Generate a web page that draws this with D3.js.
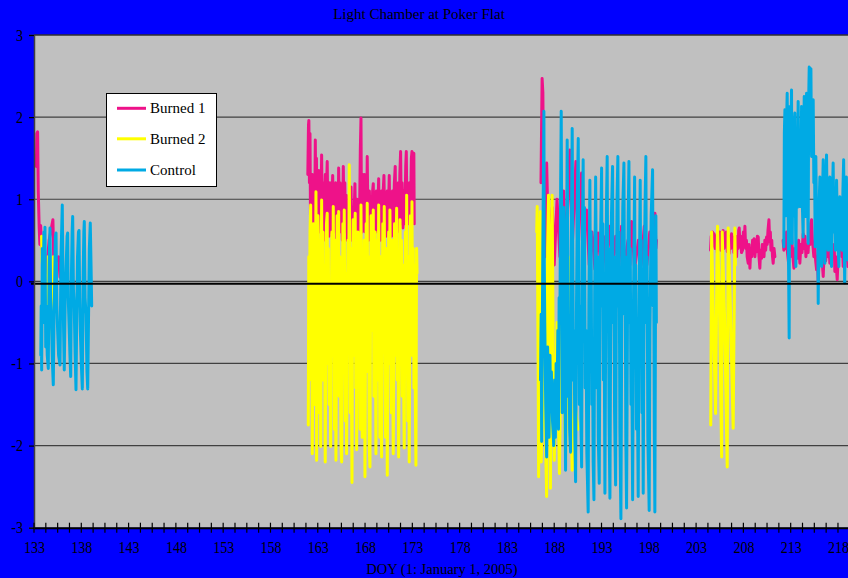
<!DOCTYPE html>
<html>
<head>
<meta charset="utf-8">
<script src="https://cdn.jsdelivr.net/npm/d3@7"></script>
<style>
  html, body { margin: 0; padding: 0; background: #0000FF; overflow: hidden; }
  svg { display: block; }
  text { font-family: "Liberation Serif", "Times New Roman", Times, serif; fill: #000; }
</style>
</head>
<body>
<svg id="chart" width="848" height="578"></svg>
<script>
// ---------------- DATA (DOY, value) ----------------
const chartTitle = "Light Chamber at Poker Flat";
const xAxisTitle = "DOY (1: January 1, 2005)";
const xTickLabels = [133, 138, 143, 148, 153, 158, 163, 168, 173, 178, 183, 188, 193, 198, 203, 208, 213, 218];
const yTickLabels = [-3, -2, -1, 0, 1, 2, 3];
const seriesNames = ["Burned 1", "Burned 2", "Control"];

// Burned 1
const burned1Seg1 = [[133.25,1.4],[133.3,1.8],[133.38,1.82],[133.45,1.1],[133.55,0.65],[133.62,0.45],[133.7,0.68],[133.78,0.5],
  [133.9,0.3],[134.3,0.1],[134.6,0.5],[135.0,0.75],[135.1,0.2],[135.6,0.3],[135.75,0.05]];
const burned1Seg2 = [[161.95,1.3],[162.02,1.9],[162.06,1.96],[162.12,1.2],[162.18,1.8],[162.24,0.6],[162.3,1.1],[162.36,0.5],
  [162.44,1.3],[162.5,0.7],[162.58,1.1],[162.66,0.5],[162.74,1.72],[162.8,0.9],[162.86,1.5],[162.92,0.6],[163.0,1.2],
  [163.06,0.7],[163.12,1.35],[163.2,0.6],[163.28,1.1],[163.34,0.8],[163.41,1.54],[163.48,0.6],[163.56,1.2],[163.64,0.5],
  [163.72,1.0],[163.8,1.3],[163.86,0.6],[163.94,1.2],[164.0,1.46],[164.08,0.7],[164.14,1.1],[164.2,0.55],[164.3,1.2],
  [164.4,0.6],[164.5,1.0],[164.58,1.29],[164.66,0.6],[164.74,1.1],[164.8,0.7],[164.9,1.2],[165.0,0.5],[165.08,1.0],
  [165.14,0.6],[165.21,1.38],[165.28,0.8],[165.36,1.2],[165.44,0.6],[165.52,1.1],[165.6,0.5],[165.7,1.40],[165.78,0.7],
  [165.86,1.2],[165.94,0.6],[166.02,1.05],[166.1,0.5],[166.2,0.9],[166.28,0.3],[166.36,1.0],[166.44,0.6],[166.52,1.15],
  [166.6,0.5],[166.7,0.9],[166.8,0.6],[166.93,1.19],[167.0,0.6],[167.08,0.4],[167.16,1.0],[167.24,0.5],[167.32,0.9],
  [167.4,0.6],[167.5,1.6],[167.57,1.99],[167.62,0.8],[167.7,0.6],[167.78,1.3],[167.86,0.7],[167.94,1.3],[168.02,0.6],
  [168.1,1.1],[168.18,0.7],[168.23,1.52],[168.3,0.8],[168.38,0.5],[168.46,1.1],[168.54,0.6],[168.62,1.0],[168.7,0.5],
  [168.8,1.1],[168.87,1.19],[168.94,0.55],[169.02,1.0],[169.1,0.6],[169.2,1.1],[169.3,0.6],[169.44,1.25],[169.5,0.7],
  [169.58,1.0],[169.66,0.5],[169.76,1.1],[169.84,0.6],[169.92,1.1],[170.0,1.29],[170.08,0.6],[170.16,1.0],[170.24,0.55],
  [170.34,1.1],[170.42,0.6],[170.5,1.0],[170.56,1.29],[170.64,0.6],[170.72,1.0],[170.8,0.55],[170.9,1.1],[171.0,0.7],
  [171.1,1.2],[171.19,1.40],[171.26,0.6],[171.34,1.0],[171.42,0.6],[171.52,1.2],[171.6,0.7],[171.68,1.3],[171.76,1.58],
  [171.84,0.7],[171.92,1.2],[172.0,0.65],[172.1,1.1],[172.2,0.7],[172.3,1.4],[172.36,1.58],[172.44,0.7],[172.52,1.1],
  [172.6,0.7],[172.7,1.2],[172.8,0.8],[172.9,1.5],[172.96,1.58],[173.04,0.9],[173.1,1.3],[173.16,1.56],[173.2,0.7]];
const burned1Seg3 = [[186.6,1.2],[186.72,2.47],[186.8,2.3],[186.9,0.8],[187.0,1.2],[187.1,0.3],[187.2,1.44],[187.4,0.4],
  [187.8,0.9],[188.0,0.2],[188.3,1.0],[188.6,0.3],[189.0,1.1],[189.2,0.3],[189.66,1.60],[189.9,0.4],[190.29,1.46],
  [190.5,0.3],[190.89,1.32],[191.1,0.5],[191.42,0.87],[191.7,0.2],[192.0,0.6],[192.3,0.15],[192.65,0.59],[192.9,0.2],
  [193.2,0.55],[193.5,0.15],[193.89,0.67],[194.2,0.2],[194.5,0.55],[194.8,0.15],[195.12,0.67],[195.4,0.2],[195.8,0.5],
  [196.0,0.2],[196.18,0.73],[196.5,0.15],[196.9,0.5],[197.2,0.2],[197.52,0.67],[197.8,0.2],[198.1,0.6],[198.4,0.3],
  [198.65,0.83],[198.75,0.4],[198.82,0.5]];
const burned1Seg4 = [[204.53,0.38],[204.6,0.55],[204.67,0.42],[204.74,0.60],[204.82,0.45],[204.9,0.58],[205.0,0.40],
  [205.08,0.55],[205.17,0.54],[205.25,0.35],[205.33,0.55],[205.42,0.45],[205.5,0.60],[205.59,0.38],[205.68,0.56],
  [205.76,0.42],[205.86,0.62],[205.95,0.40],[206.04,0.58],[206.12,0.44],[206.2,0.60],[206.3,0.36],[206.4,0.52],
  [206.50,0.34],[206.58,0.55],[206.66,0.40],[206.75,0.58],[206.84,0.42],[206.92,0.54],[207.0,0.35],[207.1,0.50],
  [207.2,0.32],[207.28,0.30],[207.36,0.55],[207.44,0.40],[207.5,0.62],[207.56,0.65],[207.64,0.42],[207.72,0.55],
  [207.8,0.35],[207.91,0.38],[208.0,0.60],[208.08,0.45],[208.16,0.67],[208.24,0.40],[208.32,0.50],[208.4,0.30],
  [208.51,0.22],[208.6,0.45],[208.69,0.16],[208.78,0.40],[208.88,0.30],[208.97,0.50],[209.05,0.35],[209.14,0.52],
  [209.22,0.30],[209.3,0.48],[209.4,0.36],[209.48,0.55],[209.57,0.54],[209.65,0.30],[209.74,0.16],[209.82,0.38],
  [209.92,0.28],[210.0,0.45],[210.09,0.42],[210.18,0.30],[210.27,0.50],[210.36,0.38],[210.45,0.54],[210.52,0.45],
  [210.6,0.62],[210.70,0.75],[210.78,0.48],[210.85,0.60],[210.91,0.38],[211.0,0.50],[211.08,0.30],[211.15,0.22],
  [211.24,0.40],[211.33,0.30]];
const burned1Seg5 = [[212.2,0.5],[212.28,0.38],[212.4,0.55],[212.48,0.40],[212.56,0.60],[212.66,0.35],[212.78,0.22],
  [212.88,0.45],[212.96,0.30],[213.09,0.56],[213.2,0.35],[213.34,0.16],[213.46,0.40],[213.54,0.30],[213.62,0.46],
  [213.72,0.28],[213.84,0.50],[213.97,0.22],[214.08,0.45],[214.2,0.35],[214.32,0.58],[214.44,0.40],[214.52,0.55],
  [214.61,0.30],[214.72,0.45],[214.84,0.35],[214.96,0.60],[215.05,0.45],[215.12,0.70],[215.21,0.75],[215.3,0.50],
  [215.38,0.40],[215.45,0.30],[215.55,0.45],[215.64,0.25],[215.74,0.14],[215.82,0.30],[215.91,0.0],[216.0,0.25],
  [216.08,0.50],[216.16,0.38],[216.26,0.45],[216.36,0.20],[216.44,0.06],[216.52,0.30],[216.62,0.45],[216.7,0.25],
  [216.79,0.38],[216.88,0.55],[216.96,0.30],[217.06,0.42],[217.14,0.22],[217.24,0.45],[217.34,0.28],[217.43,0.38],
  [217.52,0.30],[217.6,0.45],[217.67,0.12],[217.76,0.30],[217.84,0.15],[217.92,0.02],[218.0,0.25],[218.1,0.45],
  [218.20,0.38],[218.3,0.55],[218.4,0.30],[218.48,0.42],[218.55,0.18],[218.65,0.35],[218.74,0.25],[218.84,0.34],
  [218.94,0.45],[219.05,0.18]];

// Burned 2
const burned2Seg1 = [[133.8,0.55],[133.85,0.25],[134.0,0.1],[134.3,-0.5],[134.5,0.3],[134.95,-0.7],[135.05,0.3],[135.3,-0.2]];
const burned2Seg2 = [[162.00,-1.75],[162.05,0.3],[162.1,-1.2],[162.18,0.6],[162.25,0.93],[162.3,-0.6],[162.36,0.4],
  [162.42,-2.10],[162.5,-0.4],[162.55,0.7],[162.6,-1.5],[162.66,0.2],[162.72,-1.0],[162.81,1.09],[162.85,-0.3],
  [162.88,-2.18],[162.95,-0.5],[163.02,0.8],[163.1,0.3],[163.15,-1.6],[163.22,0.5],[163.31,-2.01],[163.36,-0.2],
  [163.41,0.99],[163.48,-1.2],[163.55,0.6],[163.62,-0.8],[163.7,0.2],[163.79,-2.20],[163.85,-0.6],[163.92,0.7],
  [164.00,0.83],[164.06,-1.0],[164.12,0.4],[164.2,-1.5],[164.27,-0.2],[164.36,-2.01],[164.42,-0.5],[164.5,0.6],
  [164.58,-0.9],[164.64,0.91],[164.7,-0.2],[164.76,-1.8],[164.83,0.5],[164.92,-2.18],[164.98,-0.7],[165.05,0.8],
  [165.12,0.2],[165.21,0.85],[165.27,-1.4],[165.33,0.3],[165.4,-1.0],[165.46,-2.0],[165.53,-2.20],[165.6,-0.4],
  [165.66,0.7],[165.72,-0.8],[165.80,0.87],[165.86,-0.5],[165.92,-1.7],[165.98,0.1],[166.05,-2.10],[166.12,-0.3],
  [166.2,0.5],[166.26,-0.6],[166.33,1.42],[166.38,0.2],[166.44,-1.6],[166.5,0.4],[166.56,-1.1],[166.62,-2.45],
  [166.68,-0.2],[166.74,0.75],[166.8,-0.9],[166.88,0.5],[166.96,0.83],[167.02,-1.3],[167.08,-0.1],[167.11,-2.05],
  [167.18,-0.4],[167.25,0.6],[167.32,-1.0],[167.4,0.4],[167.48,-1.8],[167.57,0.93],[167.63,-0.3],[167.7,-1.9],
  [167.76,0.2],[167.84,-1.2],[167.92,0.5],[167.99,-2.38],[168.05,-0.6],[168.12,0.7],[168.18,-0.5],[168.23,0.95],
  [168.3,-1.1],[168.36,0.3],[168.44,-2.0],[168.52,-2.26],[168.58,-0.3],[168.64,0.8],[168.7,-0.6],[168.78,0.4],
  [168.87,0.87],[168.93,-1.4],[169.0,-0.2],[169.07,0.6],[169.15,-2.10],[169.21,-0.7],[169.28,0.5],[169.36,-1.2],
  [169.44,0.93],[169.5,-0.4],[169.57,-1.9],[169.64,0.3],[169.75,-2.14],[169.81,-0.5],[169.88,0.7],[169.95,-0.8],
  [170.03,0.91],[170.1,-0.6],[170.17,-1.9],[170.24,0.4],[170.35,-2.36],[170.42,-0.4],[170.5,0.6],[170.56,-1.0],
  [170.63,0.87],[170.7,-0.3],[170.78,-1.6],[170.86,0.5],[170.98,-2.10],[171.05,-0.8],[171.12,0.7],[171.2,-0.9],
  [171.28,0.3],[171.34,0.89],[171.4,-1.2],[171.48,-0.2],[171.55,-2.14],[171.62,-0.4],[171.7,0.75],[171.78,-0.9],
  [171.85,0.5],[171.93,-1.4],[172.0,0.2],[172.07,-1.1],[172.14,-2.03],[172.2,-0.3],[172.27,0.6],[172.33,-0.8],
  [172.40,1.05],[172.46,-0.5],[172.52,-1.7],[172.6,0.3],[172.67,-2.20],[172.74,-0.5],[172.8,0.8],[172.88,-0.9],
  [172.96,0.97],[173.02,-0.6],[173.1,0.4],[173.17,-1.3],[173.25,0.2],[173.32,-1.5],[173.38,-2.24],[173.43,-0.2],
  [173.45,0.40],[173.5,0.1]];
const burned2Seg3 = [[186.15,0.6],[186.2,0.91],[186.3,-1.0],[186.35,-2.38],[186.45,0.2],[186.55,0.85],[186.62,-2.2],
  [186.9,-0.9],[187.2,-2.62],[187.3,0.4],[187.4,1.05],[187.5,-0.5],[187.6,-2.52],[187.7,0.3],[187.78,1.05],[187.9,-1.0],
  [188.0,-2.18],[188.3,-0.5],[188.55,-2.34],[188.8,0.2],[189.2,-2.21],[189.5,0.3],[189.9,-2.3],[190.2,-1.5],[190.5,-1.8]];
const burned2Seg4 = [[204.55,-1.75],[204.64,0.60],[204.8,-0.3],[205.06,-1.61],[205.2,0.2],[205.27,0.67],[205.5,-0.5],
  [205.70,-2.14],[205.76,0.60],[206.0,-0.4],[206.29,-2.26],[206.39,0.65],[206.6,-0.2],[206.92,-1.79],[207.10,0.65],[207.15,0.2]];

// Control
const controlSeg1 = [[133.72,-0.9],[133.76,-0.3],[133.81,-1.08],[133.88,0.4],[133.95,-0.2],[134.05,0.6],[134.1,-0.5],
  [134.16,0.66],[134.24,-0.8],[134.3,-0.3],[134.4,-0.9],[134.51,-1.06],[134.6,0.2],[134.69,0.65],[134.76,-0.2],
  [134.85,-0.5],[134.95,-1.0],[135.04,-1.26],[135.12,-0.4],[135.2,0.1],[135.26,0.55],[135.33,0.59],[135.42,-0.3],
  [135.5,-0.6],[135.6,-0.9],[135.75,-1.02],[135.85,0.3],[135.92,0.6],[135.99,0.93],[136.05,0.2],[136.1,-0.4],
  [136.20,-1.08],[136.3,-0.2],[136.4,0.2],[136.5,0.55],[136.56,0.59],[136.62,-0.2],[136.7,-0.5],[136.8,-0.9],
  [136.88,-1.16],[136.96,0.1],[137.03,0.6],[137.09,0.79],[137.17,-0.1],[137.25,-0.3],[137.35,-0.9],[137.44,-1.32],
  [137.52,-0.4],[137.6,0.3],[137.7,0.6],[137.76,0.62],[137.83,-0.2],[137.9,-0.6],[138.0,-1.0],[138.11,-1.31],
  [138.2,0.1],[138.27,0.6],[138.32,0.73],[138.4,-0.2],[138.5,-0.4],[138.6,-1.1],[138.68,-1.31],[138.76,-0.5],
  [138.85,0.4],[138.95,0.71],[139.03,0.2],[139.10,-0.3]];
const controlSeg3 = [[186.55,-1.2],[186.62,-0.4],[186.67,-1.95],[186.8,0.5],[186.91,2.07],[186.95,0.2],[187.0,-0.5],
  [187.1,-1.5],[187.2,-2.14],[187.3,-0.8],[187.38,-1.2],[187.45,-1.9],[187.55,-0.9],[187.62,-1.5],[187.7,-1.1],
  [187.82,-1.7],[187.95,-2.0],[188.05,-1.2],[188.12,-1.9],[188.2,-1.0],[188.3,-1.5],[188.38,-0.6],[188.45,-1.8],
  [188.52,-0.2],[188.6,-0.5],[188.68,1.2],[188.74,2.07],[188.8,0.5],[188.85,-1.6],[188.9,-1.0],[188.98,0.9],
  [189.05,0.5],[189.12,-1.2],[189.20,-2.30],[189.28,-0.2],[189.37,1.72],[189.43,0.4],[189.5,-1.4],[189.55,-0.5],
  [189.63,-1.8],[189.73,-2.08],[189.8,0.3],[189.90,1.86],[189.96,0.6],[190.03,-1.2],[190.1,-0.6],[190.18,-1.9],
  [190.26,-2.44],[190.35,-0.4],[190.44,1.0],[190.54,1.74],[190.6,0.2],[190.66,-1.5],[190.74,-0.3],[190.82,-1.7],
  [190.90,-2.26],[190.97,0.4],[191.06,1.48],[191.12,-0.2],[191.2,0.9],[191.28,-1.3],[191.36,-0.6],[191.45,-2.1],
  [191.59,-2.81],[191.66,-0.3],[191.77,1.23],[191.84,-0.4],[191.9,0.6],[191.97,-1.5],[192.05,-0.8],[192.12,-2.2],
  [192.20,-2.66],[192.28,-0.1],[192.38,1.27],[192.45,0.1],[192.52,-1.3],[192.58,0.3],[192.66,-1.9],[192.76,-2.46],
  [192.86,0.2],[193.01,1.38],[193.07,-0.3],[193.14,0.7],[193.2,-1.2],[193.28,-0.5],[193.36,-2.58],[193.44,-0.6],
  [193.52,0.9],[193.60,1.52],[193.66,-0.2],[193.72,0.4],[193.8,-1.7],[193.89,-2.64],[193.96,-0.8],[194.05,0.8],
  [194.17,1.40],[194.24,-0.5],[194.3,0.3],[194.38,-1.6],[194.49,-2.48],[194.56,-0.4],[194.64,1.0],[194.73,1.52],
  [194.8,-0.3],[194.86,0.6],[194.94,-1.8],[195.05,-2.89],[195.14,-0.5],[195.25,0.9],[195.37,1.44],[195.44,-0.4],
  [195.5,0.3],[195.57,-1.9],[195.65,-2.76],[195.74,-0.6],[195.82,0.8],[195.90,1.46],[195.97,-0.5],[196.04,0.4],
  [196.12,-1.5],[196.2,-0.9],[196.29,-2.66],[196.38,-0.3],[196.50,1.27],[196.56,-0.6],[196.62,0.2],[196.7,-1.8],
  [196.78,-1.1],[196.88,-2.62],[196.96,-0.5],[197.09,1.23],[197.15,-0.4],[197.2,0.5],[197.28,-1.6],[197.35,-0.8],
  [197.41,-2.58],[197.5,-0.2],[197.6,0.9],[197.69,1.52],[197.76,-0.5],[197.82,0.3],[197.9,-1.9],[198.04,-2.79],
  [198.12,-0.6],[198.25,0.8],[198.40,1.36],[198.46,-0.3],[198.52,0.2],[198.58,-1.8],[198.64,-2.81],[198.7,-0.6],
  [198.75,0.8],[198.8,-0.5]];
const controlSeg5 = [[212.25,0.5],[212.28,0.42],[212.33,1.8],[212.39,2.09],[212.45,1.0],[212.5,0.8],[212.56,1.9],
  [212.63,2.29],[212.7,1.2],[212.76,0.4],[212.84,-0.69],[212.88,1.6],[212.92,2.13],[212.96,1.0],[213.0,0.6],
  [213.05,1.9],[213.09,2.33],[213.12,1.2],[213.16,0.46],[213.24,1.5],[213.3,0.8],[213.38,1.9],[213.44,2.05],
  [213.5,1.0],[213.55,0.18],[213.62,1.4],[213.7,0.9],[213.79,2.19],[213.86,1.3],[213.92,1.8],[213.97,0.91],
  [214.05,1.7],[214.1,1.2],[214.15,2.13],[214.22,1.0],[214.32,0.54],[214.38,1.6],[214.43,2.25],[214.5,1.2],
  [214.58,0.79],[214.63,1.9],[214.68,2.29],[214.76,1.3],[214.85,0.46],[214.9,2.2],[214.96,2.61],[215.0,2.0],
  [215.05,1.6],[215.1,2.4],[215.14,2.59],[215.18,1.9],[215.21,1.52],[215.3,2.0],[215.38,2.21],[215.45,1.2],
  [215.52,1.5],[215.59,0.42],[215.63,1.1],[215.66,1.52],[215.75,0.6],[215.84,1.0],[215.91,-0.27],[216.0,0.9],
  [216.09,1.27],[216.18,0.5],[216.27,0.18],[216.35,1.0],[216.44,1.48],[216.52,0.6],[216.62,0.22],[216.7,1.1],
  [216.79,1.54],[216.88,0.7],[216.96,0.38],[217.05,0.9],[217.14,1.27],[217.22,0.6],[217.32,0.18],[217.4,1.0],
  [217.49,1.44],[217.58,0.6],[217.66,1.0],[217.74,0.38],[217.85,1.23],[217.95,0.6],[218.10,0.18],[218.15,0.8],
  [218.20,1.03],[218.3,0.5],[218.44,0.38],[218.52,1.1],[218.60,1.48],[218.66,0.5],[218.71,-0.02],[218.8,0.9],
  [218.89,1.27],[218.96,0.6],[219.03,0.26]];

const seriesColors = ["#EE1289", "#FFFF00", "#00AAE4"];
const seriesSegments = [
  [burned1Seg1, burned1Seg2, burned1Seg3, burned1Seg4, burned1Seg5],
  [burned2Seg1, burned2Seg2, burned2Seg3, burned2Seg4],
  [controlSeg1, controlSeg3, controlSeg5]
];

// ---------------- CHART ----------------
const svg = d3.select("#chart");
const W = 848, H = 578;
const plot = { left: 34, top: 35, right: 848, bottom: 527.7 };

const x = d3.scaleLinear().domain([133, 219.06]).range([plot.left, plot.right]);
const y = d3.scaleLinear().domain([-3, 3]).range([plot.bottom, plot.top]);

svg.append("rect").attr("width", W).attr("height", H).attr("fill", "#0000FF");
svg.append("rect")
  .attr("x", plot.left).attr("y", plot.top)
  .attr("width", plot.right - plot.left).attr("height", plot.bottom - plot.top)
  .attr("fill", "#C0C0C0");

svg.append("defs").append("clipPath").attr("id", "clip")
  .append("rect")
  .attr("x", plot.left).attr("y", plot.top)
  .attr("width", plot.right - plot.left).attr("height", plot.bottom - plot.top);

// gridlines
svg.append("g").selectAll("line")
  .data(yTickLabels.filter(v => v > -3 && v < 3))
  .join("line")
  .attr("x1", plot.left).attr("x2", plot.right)
  .attr("y1", d => y(d)).attr("y2", d => y(d))
  .attr("stroke", "#404040").attr("stroke-width", 1.2);

// top border
svg.append("line")
  .attr("x1", plot.left).attr("x2", plot.right)
  .attr("y1", plot.top).attr("y2", plot.top)
  .attr("stroke", "#303030").attr("stroke-width", 1.5);

// series
const line = d3.line().x(d => x(d[0])).y(d => y(d[1]));
const gSeries = svg.append("g").attr("clip-path", "url(#clip)");
seriesSegments.forEach((segs, i) => {
  segs.forEach(seg => {
    gSeries.append("path")
      .datum(seg)
      .attr("d", line)
      .attr("fill", "none")
      .attr("stroke", seriesColors[i])
      .attr("stroke-width", 3)
      .attr("stroke-linejoin", "round")
      .attr("stroke-linecap", "round");
  });
});

// thick near-zero line on top
svg.append("line")
  .attr("x1", plot.left - 3).attr("x2", plot.right)
  .attr("y1", y(-0.03)).attr("y2", y(-0.03))
  .attr("stroke", "#000").attr("stroke-width", 2);

// y axis
const yAxis = svg.append("g")
  .attr("transform", `translate(${plot.left},0)`)
  .call(d3.axisLeft(y).tickValues(yTickLabels).tickSize(5).tickPadding(6).tickFormat(d => String(d)));
yAxis.select(".domain").attr("stroke", "#404040").attr("stroke-width", 1.5);
yAxis.selectAll(".tick line").attr("stroke", "#000").attr("stroke-width", 1.2);
yAxis.selectAll(".tick text")
  .attr("dy", null).attr("y", null)
  .attr("transform", "translate(0,5) scale(1,1.17)")
  .style("font-size", "14px")
  .style("font-family", "'Liberation Serif', 'Times New Roman', serif");

// x axis
const xAxis = svg.append("g")
  .attr("transform", `translate(0,${plot.bottom})`)
  .call(d3.axisBottom(x).tickValues(xTickLabels).tickSize(0).tickFormat(d => String(d)));
xAxis.select(".domain").attr("stroke", "#000").attr("stroke-width", 2);
xAxis.selectAll(".tick text")
  .attr("dy", null).attr("y", null)
  .attr("transform", "translate(0,25) scale(1,1.17)")
  .style("font-size", "14px")
  .style("font-family", "'Liberation Serif', 'Times New Roman', serif");

// minor crossing ticks every 1.25 days
svg.append("g").selectAll("line")
  .data(d3.range(133, 219.1, 1.25))
  .join("line")
  .attr("x1", d => x(d)).attr("x2", d => x(d))
  .attr("y1", plot.bottom - 5).attr("y2", plot.bottom + 5)
  .attr("stroke", "#000").attr("stroke-width", 1.2);

// titles
svg.append("text")
  .attr("x", 419).attr("y", 18.5)
  .attr("text-anchor", "middle")
  .style("font-size", "15px")
  .text(chartTitle);

svg.append("text")
  .attr("x", 442).attr("y", 574)
  .attr("text-anchor", "middle")
  .style("font-size", "14.5px")
  .text(xAxisTitle);

// legend
const legend = svg.append("g");
legend.append("rect")
  .attr("x", 106.5).attr("y", 93.5).attr("width", 110).attr("height", 93)
  .attr("fill", "#FFFFFF").attr("stroke", "#000").attr("stroke-width", 1);
const legendY = [108.3, 138.8, 170];
seriesNames.forEach((name, i) => {
  legend.append("line")
    .attr("x1", 117).attr("x2", 146)
    .attr("y1", legendY[i]).attr("y2", legendY[i])
    .attr("stroke", seriesColors[i]).attr("stroke-width", 3);
  legend.append("text")
    .attr("x", 150).attr("y", legendY[i] + 5)
    .style("font-size", "15px")
    .text(name);
});
</script>
</body>
</html>
